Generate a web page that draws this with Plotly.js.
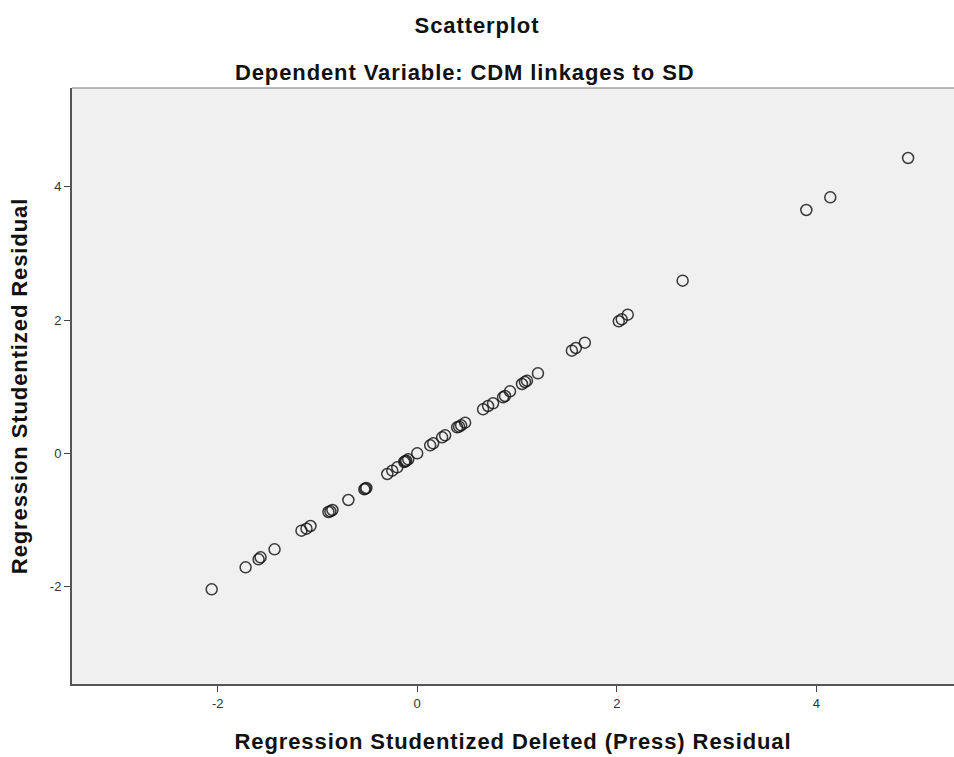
<!DOCTYPE html>
<html>
<head>
<meta charset="utf-8">
<script src="https://cdn.plot.ly/plotly-3.0.1.min.js"></script>
<style>
  html, body { margin: 0; padding: 0; background: #ffffff; }
  #chart { width: 954px; height: 757px; }
  #chart .gtitle, #chart .xtitle, #chart .ytitle, #chart .annotation-text { letter-spacing: 0.9px; }
</style>
</head>
<body>
<div id="chart"></div>
<script>
// Regression Studentized Deleted (Press) Residual (x) vs Regression Studentized Residual (y)
const deletedResidual = [
  -2.06, -1.72, -1.59, -1.57, -1.43, -1.16, -1.11, -1.07, -0.89, -0.87,
  -0.85, -0.69, -0.53, -0.52, -0.51, -0.30, -0.25, -0.20, -0.13, -0.12,
  -0.11, -0.09, 0.00, 0.13, 0.16, 0.25, 0.28, 0.40, 0.42, 0.44,
  0.48, 0.66, 0.71, 0.76, 0.86, 0.88, 0.93, 1.05, 1.08, 1.10,
  1.21, 1.55, 1.59, 1.68, 2.02, 2.05, 2.11, 2.66, 3.90, 4.14,
  4.92
];
const studentizedResidual = [
  -2.04, -1.71, -1.59, -1.56, -1.44, -1.16, -1.13, -1.09, -0.88, -0.87,
  -0.85, -0.70, -0.54, -0.53, -0.52, -0.31, -0.26, -0.21, -0.13, -0.12,
  -0.11, -0.09, 0.00, 0.12, 0.15, 0.24, 0.27, 0.39, 0.40, 0.42,
  0.46, 0.66, 0.71, 0.75, 0.84, 0.86, 0.93, 1.04, 1.07, 1.09,
  1.20, 1.54, 1.58, 1.66, 1.98, 2.01, 2.08, 2.59, 3.65, 3.84,
  4.43
];
const xTicks = [-2, 0, 2, 4];
const yTicks = [-2, 0, 2, 4];
const chartTitle = 'Scatterplot';
const chartSubtitle = 'Dependent Variable: CDM linkages to SD';
const xTitle = 'Regression Studentized Deleted (Press) Residual';
const yTitle = 'Regression Studentized Residual';

const FONT = 'Liberation Sans, Arial, sans-serif';
const TITLE_SIZE = 22;

const trace = {
  type: 'scatter',
  mode: 'markers',
  x: deletedResidual,
  y: studentizedResidual,
  marker: {
    symbol: 'circle-open',
    size: 11,
    color: 'rgba(25,25,25,0.85)',
    line: { width: 1.5 }
  },
  hoverinfo: 'x+y',
  showlegend: false
};

const layout = {
  width: 954,
  height: 757,
  paper_bgcolor: '#ffffff',
  plot_bgcolor: '#f0f0f0',
  margin: { l: 72, r: 0, t: 88, b: 73, pad: 0 },
  font: { family: FONT, color: '#222' },
  title: {
    text: '<b>' + chartTitle + '</b>',
    font: { family: FONT, size: TITLE_SIZE, color: '#111' },
    x: 0.5, xref: 'container', xanchor: 'center',
    y: 1 - 25 / 757, yref: 'container', yanchor: 'middle'
  },
  annotations: [{
    text: '<b>' + chartSubtitle + '</b>',
    font: { family: FONT, size: TITLE_SIZE, color: '#111' },
    xref: 'paper', yref: 'paper',
    x: (464 - 72) / 882, y: 1 + (88 - 72) / 596,
    xanchor: 'center', yanchor: 'middle',
    showarrow: false
  }],
  xaxis: {
    range: [-3.46, 5.38],
    tickvals: xTicks,
    ticktext: xTicks.map(String),
    ticks: 'outside', ticklen: 6, tickwidth: 1, tickcolor: '#444',
    showline: true, linecolor: '#555', linewidth: 2,
    showgrid: false, zeroline: false,
    tickfont: { family: FONT, size: 13, color: '#333' },
    title: {
      text: '<b>' + xTitle + '</b>',
      font: { family: FONT, size: TITLE_SIZE, color: '#111' },
      standoff: 24
    },
    automargin: false
  },
  yaxis: {
    range: [-3.46, 5.48],
    tickvals: yTicks,
    ticktext: yTicks.map(String),
    ticks: 'outside', ticklen: 6, tickwidth: 1, tickcolor: '#444',
    showline: true, linecolor: '#555', linewidth: 2,
    showgrid: false, zeroline: false,
    tickfont: { family: FONT, size: 13, color: '#333' },
    title: {
      text: '<b>' + yTitle + '</b>',
      font: { family: FONT, size: TITLE_SIZE, color: '#111' },
      standoff: 16
    },
    automargin: false
  },
  shapes: [{
    type: 'line', xref: 'paper', yref: 'paper',
    x0: 0, x1: 1, y0: 1, y1: 1,
    line: { color: '#777', width: 1 }
  }]
};

Plotly.newPlot('chart', [trace], layout, { displayModeBar: false, staticPlot: false });
</script>
</body>
</html>
